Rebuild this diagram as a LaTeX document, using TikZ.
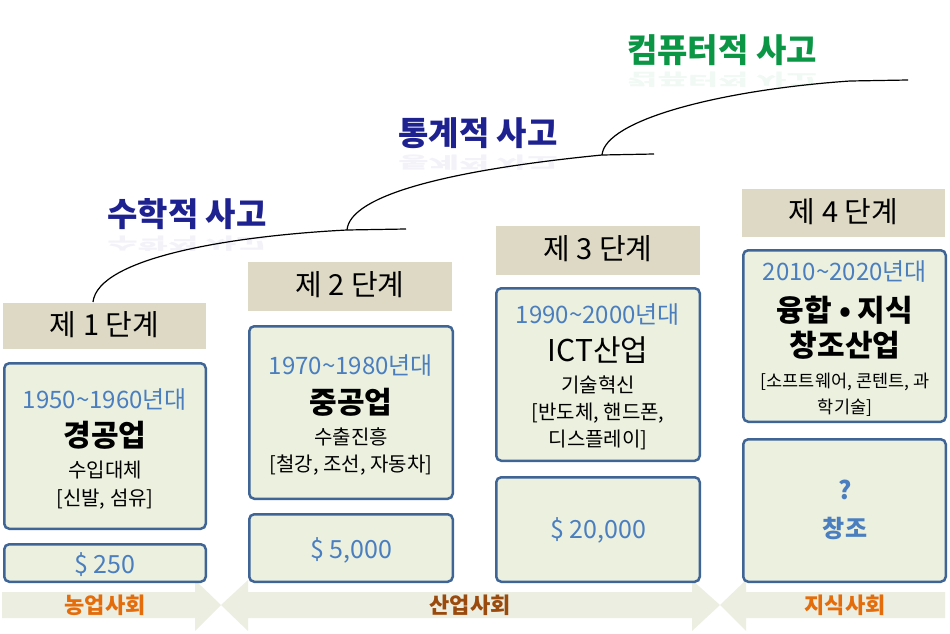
\documentclass[tikz,border=0pt]{standalone}
\usepackage{fontspec}
\usepackage{graphicx}
\setmainfont{Noto Sans CJK KR}
\definecolor{boxblue}{HTML}{3F6496}
\definecolor{boxfill}{HTML}{EBF0DF}
\definecolor{hdrfill}{HTML}{DDD9C4}
\definecolor{bandfill}{HTML}{EBEEE0}
\definecolor{yearblue}{HTML}{4A7EBF}
\definecolor{navy}{HTML}{1E2190}
\definecolor{hgreen}{HTML}{0B9646}
\definecolor{lorange}{HTML}{E46C0A}
\definecolor{lbrown}{HTML}{9A4A0C}
\begin{document}
\begin{tikzpicture}[x=1pt,y=-1pt,
  infobox/.style={draw=boxblue, line width=2.5pt, fill=boxfill, rounded corners=5pt, inner sep=0pt, outer sep=0pt},
  hdrbox/.style={fill=hdrfill, inner sep=0pt, outer sep=0pt},
  hdrtext/.style={font=\fontsize{29}{29}\selectfont, text=black, inner sep=0pt},
  yeartext/.style={font=\fontsize{24}{24}\selectfont, text=yearblue, inner sep=0pt},
  indtext/.style={font=\bfseries\fontsize{30}{30}\selectfont, text=black, inner sep=0pt},
  subtext/.style={font=\fontsize{20}{20}\selectfont, text=black, inner sep=0pt},
  smalltext/.style={font=\fontsize{17.5}{17.5}\selectfont, text=black, inner sep=0pt},
  pricetext/.style={font=\fontsize{25}{25}\selectfont, text=yearblue, inner sep=0pt},
  bandtext/.style={font=\bfseries\fontsize{22}{22}\selectfont, inner sep=0pt},
  handtext/.style={font=\bfseries\fontsize{33}{33}\selectfont, inner sep=0pt},
  refltext/.style={font=\bfseries\fontsize{33}{33}\selectfont, inner sep=0pt, opacity=0.06},
  curve/.style={draw=black, line width=1.2pt}]
\useasboundingbox (0,0) rectangle (950,634);

% bottom bands
\fill[bandfill] (2,592) -- (195,592) -- (195,580) -- (221,605) -- (195,631) -- (195,618) -- (2,618) -- cycle;
\fill[bandfill] (221,605) -- (248,580) -- (248,592) -- (692,592) -- (692,580) -- (720,605) -- (692,631) -- (692,618) -- (248,618) -- (248,631) -- cycle;
\fill[bandfill] (720,605) -- (746,580) -- (746,592) -- (945,592) -- (945,618) -- (746,618) -- (746,631) -- cycle;
\node[bandtext, text=lorange] (b1) at (105,605) {농업사회};
\node[bandtext, text=lbrown] (b2) at (470,605) {산업사회};
\node[bandtext, text=lorange] (b3) at (845,605) {지식사회};

% headers
\node[hdrbox, minimum width=203pt, minimum height=46pt] (h1) at (104.5,326) {};
\node[hdrbox, minimum width=204pt, minimum height=49pt] (h2) at (350,286.5) {};
\node[hdrbox, minimum width=204pt, minimum height=49pt] (h3) at (598,250.5) {};
\node[hdrbox, minimum width=203pt, minimum height=48pt] (h4) at (843.5,213) {};
\node[hdrtext] (h1t) at (104.5,325) {제 1 단계};
\node[hdrtext] (h2t) at (350,285) {제 2 단계};
\node[hdrtext] (h3t) at (598,249) {제 3 단계};
\node[hdrtext] (h4t) at (843.5,212) {제 4 단계};

% info boxes
\node[infobox, minimum width=201.5pt, minimum height=165.5pt] (i1) at (105,446) {};
\node[infobox, minimum width=201.5pt, minimum height=37.5pt] (p1) at (105,563) {};
\node[infobox, minimum width=203.5pt, minimum height=172.5pt] (i2) at (351,412.5) {};
\node[infobox, minimum width=203.5pt, minimum height=67.5pt] (p2) at (351,548) {};
\node[infobox, minimum width=203.5pt, minimum height=172.5pt] (i3) at (598,374.5) {};
\node[infobox, minimum width=203.5pt, minimum height=104.5pt] (p3) at (598,529.5) {};
\node[infobox, minimum width=202.5pt, minimum height=171.5pt] (i4) at (844.5,336) {};
\node[infobox, minimum width=202.5pt, minimum height=142.5pt] (p4) at (844.5,510.5) {};

% box 1 texts
\node[yeartext] (y1) at (105,400) {1950\textasciitilde1960년대};
\node[indtext] (n1) at (105,435) {경공업};
\node[subtext] (s1) at (105,470) {수입대체};
\node[subtext] (t1) at (105,499) {[신발, 섬유]};
\node[pricetext] (v1) at (105,565) {\$ 250};

% box 2 texts
\node[yeartext] (y2) at (351,366) {1970\textasciitilde1980년대};
\node[indtext] (n2) at (351,402) {중공업};
\node[subtext] (s2) at (351,437) {수출진흥};
\node[subtext] (t2) at (351,465) {[철강, 조선, 자동차]};
\node[pricetext] (v2) at (351,550) {\$ 5,000};

% box 3 texts
\node[yeartext] (y3) at (598,315) {1990\textasciitilde2000년대};
\node[indtext, font=\fontsize{30}{30}\selectfont] (n3) at (598,350) {ICT산업};
\node[subtext] (s3) at (598,385) {기술혁신};
\node[subtext] (t3) at (598,413) {[반도체, 핸드폰,};
\node[subtext] (u3) at (598,440) {디스플레이]};
\node[pricetext] (v3) at (598,530) {\$ 20,000};

% box 4 texts
\node[yeartext] (y4) at (845,272) {2010\textasciitilde2020년대};
\node[indtext] (n4) at (845,310) {융합 • 지식};
\node[indtext] (m4) at (845,345) {창조산업};
\node[smalltext] (s4) at (845,382) {[소프트웨어, 콘텐트, 과};
\node[smalltext] (t4) at (845,408) {학기술]};
\node[pricetext, font=\bfseries\fontsize{25}{25}\selectfont] (q4) at (845,490) {?};
\node[pricetext, font=\bfseries\fontsize{24}{24}\selectfont] (v4) at (845,528) {창조};

% curves
\coordinate (c1s) at (93,302);
\coordinate (c1m) at (347,230);
\coordinate (c1e) at (406,229);
\coordinate (c2m) at (602,155);
\coordinate (c2e) at (654,154);
\coordinate (c3m) at (850,81);
\coordinate (c3e) at (908,80);
\draw[curve] (c1s) .. controls (98,258) and (230,236) .. (c1m) -- (c1e);
\draw[curve] (c1m) .. controls (350,195) and (450,170) .. (c2m) -- (c2e);
\draw[curve] (c2m) .. controls (605,120) and (720,90) .. (c3m) -- (c3e);

% handwritten labels with faint reflections
\node[refltext, text=navy] (r1) at (187,244) {\scalebox{1}[-0.5]{수학적 사고}};
\node[refltext, text=navy] (r2) at (478,163) {\scalebox{1}[-0.5]{통계적 사고}};
\node[refltext, text=hgreen] (r3) at (722,80) {\scalebox{1}[-0.5]{컴퓨터적 사고}};
\node[handtext, text=navy] (l1) at (187,214) {수학적 사고};
\node[handtext, text=navy] (l2) at (478,133) {통계적 사고};
\node[handtext, text=hgreen] (l3) at (722,50) {컴퓨터적 사고};
\end{tikzpicture}
\end{document}
